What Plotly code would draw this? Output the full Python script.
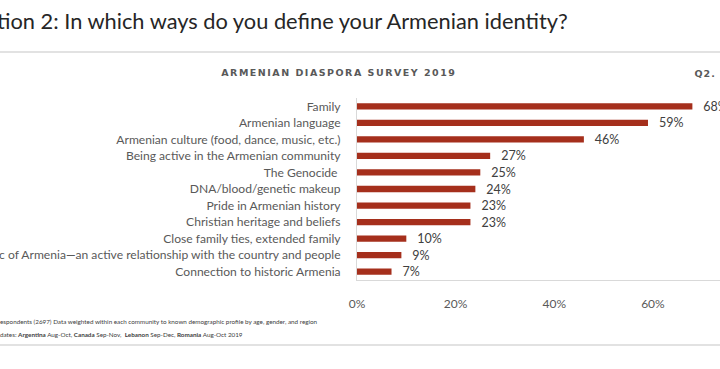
import plotly.graph_objects as go

categories = [
    "Family",
    "Armenian language",
    "Armenian culture (food, dance, music, etc.)",
    "Being active in the Armenian community",
    "The Genocide ",
    "DNA/blood/genetic makeup",
    "Pride in Armenian history",
    "Christian heritage and beliefs",
    "Close family ties, extended family",
    "c of Armenia\u2014an active relationship with the country and people",
    "Connection to historic Armenia",
]
values = [68, 59, 46, 27, 25, 24, 23, 23, 10, 9, 7]
tick_vals = [0, 20, 40, 60]
tick_text = ["0%", "20%", "40%", "60%"]

title_text = "tion 2: In which ways do you define your Armenian identity?"
header_text = "ARMENIAN DIASPORA SURVEY 2019"
q_text = "Q2."
foot1 = "espondents (2697) Data weighted within each community to known demographic profile by age, gender, and region"
foot2 = ("dates: <b>Argentina</b> Aug-Oct, <b>Canada</b> Sep-Nov,  <b>Lebanon</b> Sep-Dec, "
         "<b>Romania</b> Aug-Oct 2019")

W, H = 720, 369
L, R, T, B = 357, 0, 98, 89
PW = W - L - R
PH = H - T - B


def px(x):
    return (x - L) / PW


def py(y):
    return (H - B - y) / PH


bar_color = "#A52F1C"
grey = "#595959"

fig = go.Figure(
    go.Bar(
        x=values,
        y=categories,
        orientation="h",
        marker=dict(color=bar_color, line=dict(width=0)),
        width=0.38,
        text=[f"\u00a0\u00a0\u2009{v}%" for v in values],
        textposition="outside",
        constraintext="none",
        textfont=dict(family="Lato", size=12.5, color="#404040"),
        cliponaxis=False,
        hoverinfo="skip",
    )
)

fig.update_layout(
    width=W,
    height=H,
    margin=dict(l=L, r=R, t=T, b=B, pad=0),
    paper_bgcolor="white",
    plot_bgcolor="white",
    showlegend=False,
    font=dict(family="Lato", color=grey),
    xaxis=dict(
        range=[0, 73.6],
        tickvals=tick_vals,
        ticktext=tick_text,
        showgrid=False,
        zeroline=False,
        showline=True,
        linecolor="#d9d9d9",
        linewidth=1,
        ticks="",
        ticklabelstandoff=13,
        tickfont=dict(family="Lato", size=12, color=grey),
        automargin=False,
        fixedrange=True,
    ),
    yaxis=dict(
        categoryorder="array",
        categoryarray=categories,
        autorange="reversed",
        showgrid=False,
        zeroline=False,
        showline=True,
        linecolor="#d9d9d9",
        linewidth=1,
        ticks="",
        ticklabelstandoff=13,
        tickfont=dict(family="Lato", size=12.1, color=grey),
        automargin=False,
        fixedrange=True,
    ),
    shapes=[
        dict(type="line", xref="paper", yref="paper", x0=px(0), x1=px(W),
             y0=py(52), y1=py(52), line=dict(color="#d9d9d9", width=1.5)),
        dict(type="line", xref="paper", yref="paper", x0=px(0), x1=px(W),
             y0=py(345), y1=py(345), line=dict(color="#d9d9d9", width=1.5)),
    ],
    annotations=[
        dict(text=title_text, xref="paper", yref="paper", x=px(-5), y=py(20),
             xanchor="left", yanchor="middle", showarrow=False,
             font=dict(family="Lato", size=21.8, color="#262626")),
        dict(text="<b>" + header_text + "</b>", xref="paper", yref="paper", x=px(338.5), y=py(72),
             xanchor="center", yanchor="middle", showarrow=False,
             font=dict(family="DejaVu Sans", size=9.5, color=grey)),
        dict(text="<b>" + q_text + "</b>", xref="paper", yref="paper", x=px(705), y=py(73),
             xanchor="center", yanchor="middle", showarrow=False,
             font=dict(family="DejaVu Sans", size=9.5, color=grey)),
        dict(text=foot1, xref="paper", yref="paper", x=px(-2), y=py(321.5),
             xanchor="left", yanchor="middle", showarrow=False,
             font=dict(family="Lato", size=6.3, color="#404040")),
        dict(text=foot2, xref="paper", yref="paper", x=px(-2), y=py(334.5),
             xanchor="left", yanchor="middle", showarrow=False,
             font=dict(family="Lato", size=6.3, color="#404040")),
    ],
)

post = """
document.body.style.margin = '0';
document.body.style.padding = '0';
var gd = document.getElementsByClassName('plotly-graph-div')[0];
gd.querySelectorAll('.annotation-text').forEach(function (t) {
  var s = t.textContent;
  if (s.indexOf('ARMENIAN DIASPORA') === 0) {
    t.style.letterSpacing = '1.5px';
  } else if (s === 'Q2.') {
    t.style.letterSpacing = '1px';
  }
});
"""

fig.write_html("out.html", config={"displayModeBar": False}, post_script=post)
